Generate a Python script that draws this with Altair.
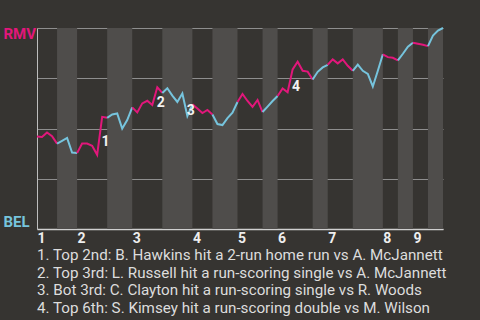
import altair as alt
import pandas as pd

# Half-inning boundaries (play index), top half first
half_bounds = [0, 4, 8, 14, 19, 25, 31, 35, 40, 45, 48, 55, 58, 63, 69, 72, 75, 78, 81]
inning_labels = ["1", "2", "3", "4", "5", "6", "7", "8", "9"]

# RMV win probability after each play
wp_rmv = [0.46, 0.458, 0.48, 0.462, 0.425, 0.439, 0.453, 0.38, 0.378, 0.425,
          0.425, 0.414, 0.369, 0.558, 0.553, 0.57, 0.575, 0.50, 0.542, 0.605,
          0.58, 0.625, 0.638, 0.617, 0.705, 0.677, 0.70, 0.664, 0.632, 0.674,
          0.562, 0.62, 0.599, 0.577, 0.592, 0.57, 0.522, 0.517, 0.552, 0.579,
          0.632, 0.672, 0.637, 0.608, 0.642, 0.582, 0.609, 0.637, 0.662, 0.699,
          0.68, 0.794, 0.832, 0.787, 0.783, 0.744, 0.782, 0.804, 0.817, 0.844,
          0.824, 0.844, 0.812, 0.787, 0.818, 0.787, 0.772, 0.709, 0.787, 0.869,
          0.855, 0.852, 0.839, 0.872, 0.907, 0.927, 0.922, 0.917, 0.91, 0.962,
          0.987, 1.0]

event_idx = [13, 24, 30, 51]
event_nums = ["1", "2", "3", "4"]
notes = [
    "1. Top 2nd: B. Hawkins hit a 2-run home run vs A. McJannett",
    "2. Top 3rd: L. Russell hit a run-scoring single vs A. McJannett",
    "3. Bot 3rd: C. Clayton hit a run-scoring single vs R. Woods",
    "4. Top 6th: S. Kimsey hit a run-scoring double vs M. Wilson",
]

PINK = "#e2177b"
BLUE = "#76c4dd"
BG = "#363431"
BAND = "#4f4d4b"
FONT = "Roboto"

W, H = 406, 201

halves = pd.DataFrame({"play": half_bounds[:-1], "play_end": half_bounds[1:]})
halves["half"] = ["top" if k % 2 == 0 else "bot" for k in range(len(halves))]
halves["hid"] = list(range(len(halves)))
halves["wp"] = 0.0
halves["wp_end"] = 1.0
bands = halves[halves["half"] == "bot"]

rows = []
for h in halves.itertuples():
    for i in range(h.play, h.play_end + 1):
        rows.append({"play": i, "wp": wp_rmv[i], "half": h.half, "hid": h.hid})
line_df = pd.DataFrame(rows)

ev_df = pd.DataFrame({
    "play": event_idx,
    "label": event_nums,
    "wp": [(wp_rmv[i - 1] + wp_rmv[i]) / 2 for i in event_idx],
})

inning_starts = half_bounds[0:-1:2]
label_expr = "indexof([" + ",".join(str(v) for v in inning_starts) + "], datum.value) + 1"

x_scale = alt.Scale(domain=[0, half_bounds[-1]], nice=False, zero=False)
y_scale = alt.Scale(domain=[0, 1], nice=False)

x_axis = alt.Axis(
    values=inning_starts, labelExpr=label_expr, title=None, grid=False,
    ticks=False, labelAlign="left", labelBaseline="top", labelPadding=2,
    labelFont=FONT, labelFontSize=14, labelFontWeight="bold", labelColor="#eeeeee",
    labelFlush=False, labelOverlap=False, domainColor="#cfcfcf", domainWidth=1.5,
)
y_axis = alt.Axis(
    values=[0, 0.25, 0.5, 0.75, 1], title=None, grid=True, gridColor="#8e8e8e",
    gridWidth=1, ticks=False, domainColor="#bdbdbd", domainWidth=1,
    labelExpr="datum.value == 1 ? 'RMV' : (datum.value == 0 ? 'BEL' : '')",
    labelAlign="left", labelPadding=34, labelFont=FONT, labelFontSize=15,
    labelFontWeight="bold",
    labelColor={"condition": {"test": "datum.value == 1", "value": PINK}, "value": BLUE},
    labelBaseline={"condition": {"test": "datum.value == 1", "value": "top"}, "value": "bottom"},
    labelOffset={"condition": {"test": "datum.value == 1", "value": -2}, "value": 0},
)

band_layer = alt.Chart(bands).mark_rect(color=BAND).encode(
    x=alt.X("play:Q", scale=x_scale, axis=x_axis),
    x2="play_end:Q",
    y=alt.Y("wp:Q", scale=y_scale, axis=y_axis),
    y2="wp_end:Q",
)

line_layer = alt.Chart(line_df).mark_line(strokeWidth=2).encode(
    x=alt.X("play:Q", scale=x_scale, axis=x_axis),
    y=alt.Y("wp:Q", scale=y_scale, axis=y_axis),
    color=alt.Color("half:N", scale=alt.Scale(domain=["top", "bot"], range=[PINK, BLUE]), legend=None),
    detail="hid:N",
    order="play:Q",
)

ev_layer = alt.Chart(ev_df).mark_text(
    font=FONT, fontSize=14, fontWeight="bold", color="#f2f2f2",
    align="center", baseline="middle", dx=3.4, dy=6.5,
).encode(
    x=alt.X("play:Q", scale=x_scale, axis=x_axis),
    y=alt.Y("wp:Q", scale=y_scale, axis=y_axis),
    text="label:N",
)

chart = alt.layer(band_layer, line_layer, ev_layer).properties(
    width=W, height=H,
    autosize=alt.AutoSizeParams(type="none"),
    padding={"left": 37, "top": 28, "right": 37, "bottom": 91},
    title=alt.TitleParams(
        text=notes, orient="bottom", anchor="start", frame="group",
        font=FONT, fontSize=15.2, fontWeight="normal", color="#dddddd",
        lineHeight=17.7, offset=3,
    ),
).configure(background=BG).configure_view(stroke=None)

chart.save("out.html", embed_options={"renderer": "svg", "actions": False})
